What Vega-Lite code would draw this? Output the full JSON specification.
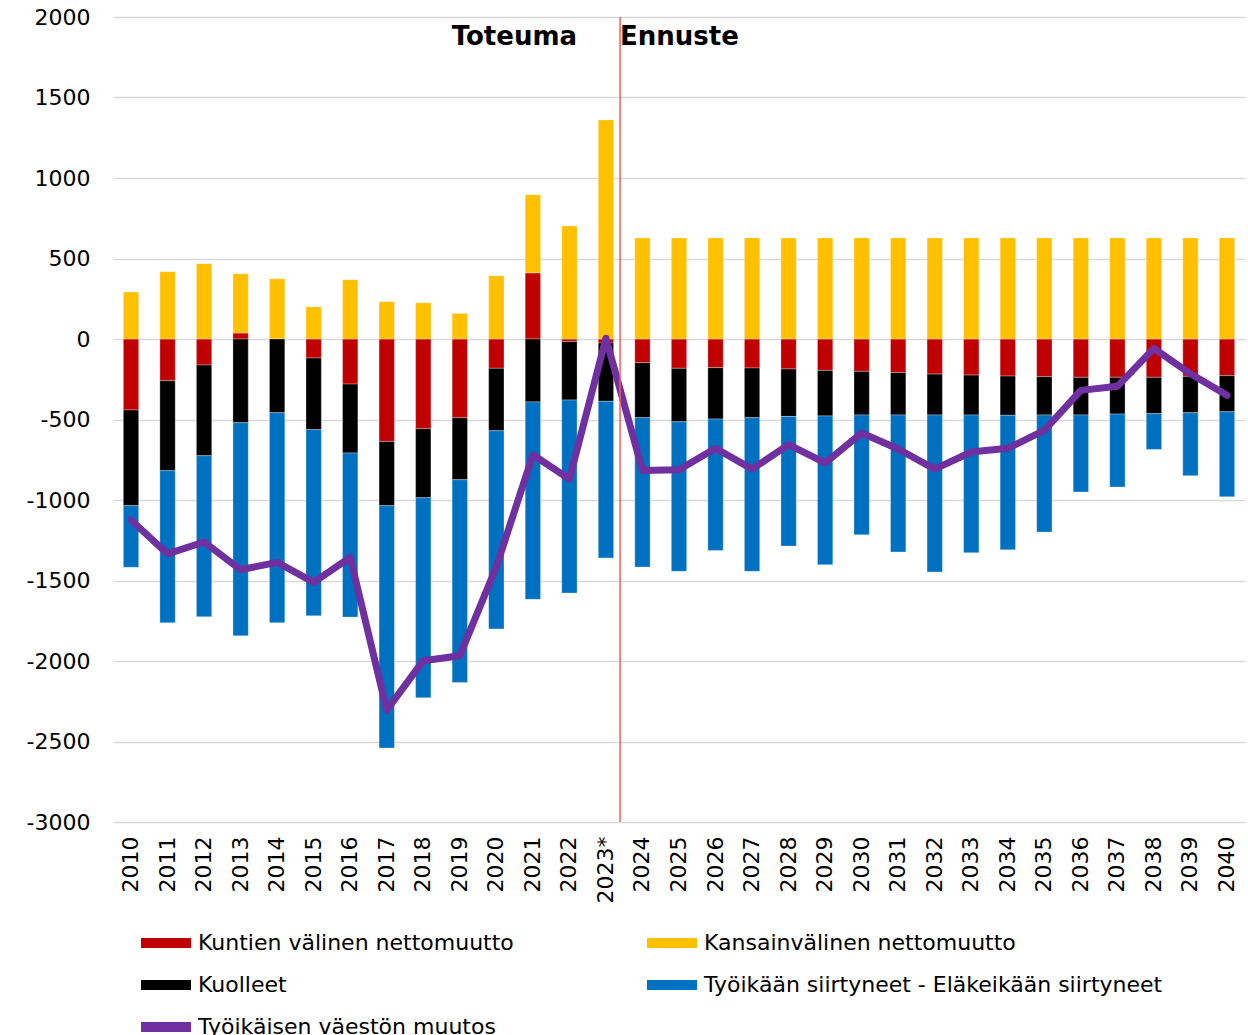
{
  "$schema": "https://vega.github.io/schema/vega-lite/v6.json",
  "width": 1132,
  "height": 805,
  "autosize": {"type": "none"},
  "padding": {"left": 113, "top": 17, "right": 3, "bottom": 213},
  "background": "white",
  "config": {"view": {"stroke": null}, "font": "DejaVu Sans"},
  "datasets": {
    "bars": [
      {"year":"2010","Kuntien välinen nettomuutto":-441,"Kansainvälinen nettomuutto":292,"Kuolleet":-594,"Työikään siirtyneet - Eläkeikään siirtyneet":-383},
      {"year":"2011","Kuntien välinen nettomuutto":-259,"Kansainvälinen nettomuutto":418,"Kuolleet":-559,"Työikään siirtyneet - Eläkeikään siirtyneet":-944},
      {"year":"2012","Kuntien välinen nettomuutto":-162,"Kansainvälinen nettomuutto":468,"Kuolleet":-563,"Työikään siirtyneet - Eläkeikään siirtyneet":-1000},
      {"year":"2013","Kuntien välinen nettomuutto":37,"Kansainvälinen nettomuutto":368,"Kuolleet":-520,"Työikään siirtyneet - Eläkeikään siirtyneet":-1323},
      {"year":"2014","Kuntien välinen nettomuutto":0,"Kansainvälinen nettomuutto":374,"Kuolleet":-458,"Työikään siirtyneet - Eläkeikään siirtyneet":-1304},
      {"year":"2015","Kuntien välinen nettomuutto":-118,"Kansainvälinen nettomuutto":200,"Kuolleet":-445,"Työikään siirtyneet - Eläkeikään siirtyneet":-1156},
      {"year":"2016","Kuntien välinen nettomuutto":-280,"Kansainvälinen nettomuutto":368,"Kuolleet":-428,"Työikään siirtyneet - Eläkeikään siirtyneet":-1019},
      {"year":"2017","Kuntien välinen nettomuutto":-636,"Kansainvälinen nettomuutto":232,"Kuolleet":-399,"Työikään siirtyneet - Eläkeikään siirtyneet":-1505},
      {"year":"2018","Kuntien välinen nettomuutto":-557,"Kansainvälinen nettomuutto":225,"Kuolleet":-429,"Työikään siirtyneet - Eläkeikään siirtyneet":-1242},
      {"year":"2019","Kuntien välinen nettomuutto":-489,"Kansainvälinen nettomuutto":159,"Kuolleet":-385,"Työikään siirtyneet - Eläkeikään siirtyneet":-1259},
      {"year":"2020","Kuntien välinen nettomuutto":-182,"Kansainvälinen nettomuutto":393,"Kuolleet":-388,"Työikään siirtyneet - Eläkeikään siirtyneet":-1231},
      {"year":"2021","Kuntien välinen nettomuutto":411,"Kansainvälinen nettomuutto":485,"Kuolleet":-391,"Työikään siirtyneet - Eläkeikään siirtyneet":-1226},
      {"year":"2022","Kuntien välinen nettomuutto":-15,"Kansainvälinen nettomuutto":702,"Kuolleet":-364,"Työikään siirtyneet - Eläkeikään siirtyneet":-1199},
      {"year":"2023*","Kuntien välinen nettomuutto":-25,"Kansainvälinen nettomuutto":1360,"Kuolleet":-362,"Työikään siirtyneet - Eläkeikään siirtyneet":-973},
      {"year":"2024","Kuntien välinen nettomuutto":-147,"Kansainvälinen nettomuutto":628,"Kuolleet":-342,"Työikään siirtyneet - Eläkeikään siirtyneet":-927},
      {"year":"2025","Kuntien välinen nettomuutto":-182,"Kansainvälinen nettomuutto":628,"Kuolleet":-332,"Työikään siirtyneet - Eläkeikään siirtyneet":-929},
      {"year":"2026","Kuntien välinen nettomuutto":-178,"Kansainvälinen nettomuutto":628,"Kuolleet":-319,"Työikään siirtyneet - Eläkeikään siirtyneet":-816},
      {"year":"2027","Kuntien välinen nettomuutto":-180,"Kansainvälinen nettomuutto":628,"Kuolleet":-309,"Työikään siirtyneet - Eläkeikään siirtyneet":-954},
      {"year":"2028","Kuntien välinen nettomuutto":-186,"Kansainvälinen nettomuutto":628,"Kuolleet":-295,"Työikään siirtyneet - Eläkeikään siirtyneet":-805},
      {"year":"2029","Kuntien välinen nettomuutto":-195,"Kansainvälinen nettomuutto":628,"Kuolleet":-283,"Työikään siirtyneet - Eläkeikään siirtyneet":-924},
      {"year":"2030","Kuntien välinen nettomuutto":-201,"Kansainvälinen nettomuutto":628,"Kuolleet":-271,"Työikään siirtyneet - Eläkeikään siirtyneet":-744},
      {"year":"2031","Kuntien välinen nettomuutto":-209,"Kansainvälinen nettomuutto":628,"Kuolleet":-263,"Työikään siirtyneet - Eläkeikään siirtyneet":-851},
      {"year":"2032","Kuntien välinen nettomuutto":-218,"Kansainvälinen nettomuutto":628,"Kuolleet":-254,"Työikään siirtyneet - Eläkeikään siirtyneet":-975},
      {"year":"2033","Kuntien välinen nettomuutto":-224,"Kansainvälinen nettomuutto":628,"Kuolleet":-248,"Työikään siirtyneet - Eläkeikään siirtyneet":-855},
      {"year":"2034","Kuntien välinen nettomuutto":-230,"Kansainvälinen nettomuutto":628,"Kuolleet":-244,"Työikään siirtyneet - Eläkeikään siirtyneet":-835},
      {"year":"2035","Kuntien välinen nettomuutto":-234,"Kansainvälinen nettomuutto":628,"Kuolleet":-238,"Työikään siirtyneet - Eläkeikään siirtyneet":-727},
      {"year":"2036","Kuntien välinen nettomuutto":-238,"Kansainvälinen nettomuutto":628,"Kuolleet":-234,"Työikään siirtyneet - Eläkeikään siirtyneet":-478},
      {"year":"2037","Kuntien välinen nettomuutto":-238,"Kansainvälinen nettomuutto":628,"Kuolleet":-228,"Työikään siirtyneet - Eläkeikään siirtyneet":-453},
      {"year":"2038","Kuntien välinen nettomuutto":-238,"Kansainvälinen nettomuutto":628,"Kuolleet":-226,"Työikään siirtyneet - Eläkeikään siirtyneet":-222},
      {"year":"2039","Kuntien välinen nettomuutto":-232,"Kansainvälinen nettomuutto":628,"Kuolleet":-226,"Työikään siirtyneet - Eläkeikään siirtyneet":-391},
      {"year":"2040","Kuntien välinen nettomuutto":-228,"Kansainvälinen nettomuutto":628,"Kuolleet":-224,"Työikään siirtyneet - Eläkeikään siirtyneet":-528}
    ],
    "line": [
      {"year":"2010","value":-1124},{"year":"2011","value":-1335},{"year":"2012","value":-1261},
      {"year":"2013","value":-1433},{"year":"2014","value":-1387},{"year":"2015","value":-1512},
      {"year":"2016","value":-1356},{"year":"2017","value":-2305},{"year":"2018","value":-1998},
      {"year":"2019","value":-1967},{"year":"2020","value":-1415},{"year":"2021","value":-719},
      {"year":"2022","value":-870},{"year":"2023*","value":5},{"year":"2024","value":-816},
      {"year":"2025","value":-812},{"year":"2026","value":-679},{"year":"2027","value":-808},
      {"year":"2028","value":-656},{"year":"2029","value":-770},{"year":"2030","value":-584},
      {"year":"2031","value":-683},{"year":"2032","value":-808},{"year":"2033","value":-702},
      {"year":"2034","value":-679},{"year":"2035","value":-568},{"year":"2036","value":-319},
      {"year":"2037","value":-294},{"year":"2038","value":-58},{"year":"2039","value":-216},
      {"year":"2040","value":-350}
    ],
    "order": [
      {"series":"Kuntien välinen nettomuutto","rank":1},
      {"series":"Kansainvälinen nettomuutto","rank":2},
      {"series":"Kuolleet","rank":3},
      {"series":"Työikään siirtyneet - Eläkeikään siirtyneet","rank":4}
    ],
    "divider": [{"year":"2023*"}],
    "labels": [
      {"year":"2023*","label":"Toteuma","side":"left"},
      {"year":"2023*","label":"Ennuste","side":"right"}
    ]
  },
  "layer": [
    {
      "data": {"name": "bars"},
      "transform": [
        {"fold": ["Kuntien välinen nettomuutto","Kansainvälinen nettomuutto","Kuolleet","Työikään siirtyneet - Eläkeikään siirtyneet"], "as": ["series","value"]},
        {"lookup": "series", "from": {"data": {"name": "order"}, "key": "series", "fields": ["rank"]}}
      ],
      "mark": {"type": "bar", "stroke": "white", "strokeWidth": 0.5, "strokeOpacity": 0.6},
      "encoding": {
        "x": {"field": "year", "type": "ordinal", "sort": null,
          "scale": {"paddingInner": 0.58, "paddingOuter": 0.283},
          "axis": {"title": null, "labelAngle": 270, "labelFontSize": 22, "labelColor": "#000000", "labelPadding": 14, "ticks": false, "domain": false, "labelFont": "DejaVu Sans"}},
        "y": {"field": "value", "type": "quantitative", "stack": "zero",
          "scale": {"domain": [-3000, 2000], "nice": false, "zero": false},
          "axis": {"title": null, "values": [-3000,-2500,-2000,-1500,-1000,-500,0,500,1000,1500,2000], "labelExpr": "'' + datum.value", "labelFontSize": 22, "labelColor": "#000000", "labelPadding": 23, "ticks": false, "domain": false, "grid": true, "gridColor": "#D9D9D9", "gridWidth": 1.5, "labelFont": "DejaVu Sans"}},
        "color": {"field": "series", "type": "nominal",
          "scale": {"domain": ["Kuntien välinen nettomuutto","Kansainvälinen nettomuutto","Kuolleet","Työikään siirtyneet - Eläkeikään siirtyneet","Työikäisen väestön muutos"],
                    "range": ["#C00000","#FFC000","#000000","#0070C0","#7030A0"]},
          "legend": {"title": null, "orient": "none", "direction": "horizontal", "legendX": 28, "legendY": 901, "columns": 2, "columnPadding": 133, "rowPadding": 6,
            "symbolType": "M-1,-0.2H1V0.2H-1Z", "symbolSize": 2500, "symbolStrokeWidth": 0, "labelOffset": 7, "labelFontSize": 22, "labelColor": "#000000", "labelFont": "DejaVu Sans", "labelLimit": 600}},
        "order": {"field": "rank", "type": "quantitative", "sort": "ascending"}
      }
    },
    {
      "data": {"name": "line"},
      "mark": {"type": "line", "strokeWidth": 7, "strokeCap": "round", "strokeJoin": "round"},
      "encoding": {
        "x": {"field": "year", "type": "ordinal", "sort": null},
        "y": {"field": "value", "type": "quantitative"},
        "color": {"datum": "Työikäisen väestön muutos"}
      }
    },
    {
      "data": {"name": "divider"},
      "mark": {"type": "rule", "color": "#F0605D", "strokeWidth": 1.5},
      "encoding": {
        "x": {"field": "year", "type": "ordinal", "sort": null, "bandPosition": 1.42}
      }
    },
    {
      "data": {"name": "labels"},
      "transform": [{"filter": "datum.side == 'left'"}],
      "mark": {"type": "text", "align": "right", "baseline": "middle", "dx": -43, "fontSize": 26, "fontWeight": "bold", "font": "DejaVu Sans", "color": "#000000"},
      "encoding": {
        "x": {"field": "year", "type": "ordinal", "sort": null, "bandPosition": 1.42},
        "y": {"datum": 1875, "type": "quantitative"},
        "text": {"field": "label"}
      }
    },
    {
      "data": {"name": "labels"},
      "transform": [{"filter": "datum.side == 'right'"}],
      "mark": {"type": "text", "align": "left", "baseline": "middle", "dx": 0, "fontSize": 26, "fontWeight": "bold", "font": "DejaVu Sans", "color": "#000000"},
      "encoding": {
        "x": {"field": "year", "type": "ordinal", "sort": null, "bandPosition": 1.42},
        "y": {"datum": 1875, "type": "quantitative"},
        "text": {"field": "label"}
      }
    }
  ]
}
